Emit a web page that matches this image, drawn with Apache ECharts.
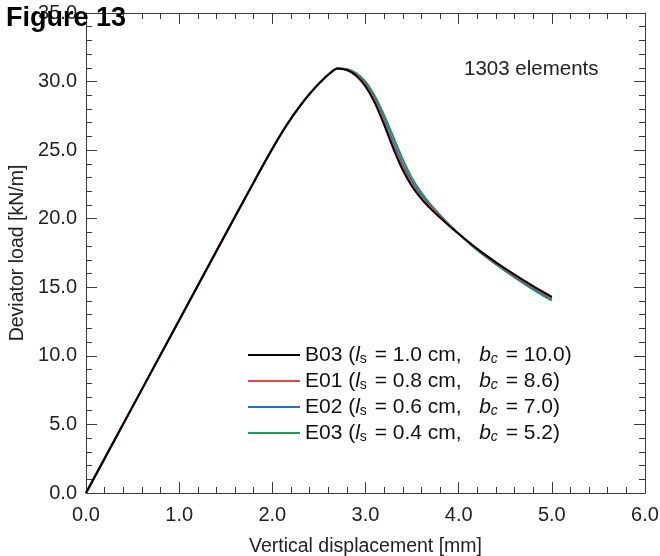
<!DOCTYPE html>
<html>
<head>
<meta charset="utf-8">
<script src="https://cdn.jsdelivr.net/npm/echarts@6/dist/echarts.min.js"></script>
<style>html,body{margin:0;padding:0;background:#fff}#c{width:660px;height:556px}</style>
</head>
<body>
<div id="c"></div>
<script>
// ---- data ----
const dispMm  = [0,0.5,1.0,1.5,1.8,1.9,2.0,2.1,2.2,2.3,2.4,2.5,2.6,2.7,2.8,2.9,3.0,3.1,3.2,3.3,3.4,3.5,3.6,3.7,3.8,3.9,4.0,4.2,4.4,4.6,4.8,5.0];
const loadB03 = [0,6.3,12.6,18.9,22.65,23.9,25.1,26.25,27.3,28.25,29.1,29.85,30.5,30.96,30.84,30.42,29.65,28.45,26.85,25.1,23.55,22.35,21.45,20.72,20.08,19.47,18.9,17.8,16.82,15.92,15.08,14.3];
const loadE01 = [0,6.3,12.6,18.9,22.65,23.9,25.1,26.25,27.3,28.25,29.1,29.85,30.5,30.96,30.86,30.47,29.74,28.58,27.03,25.31,23.75,22.5,21.56,20.8,20.13,19.5,18.9,17.78,16.78,15.87,15.02,14.23];
const loadE02 = [0,6.3,12.6,18.9,22.65,23.9,25.1,26.25,27.3,28.25,29.1,29.85,30.5,30.96,30.88,30.53,29.84,28.73,27.24,25.57,23.99,22.68,21.7,20.89,20.19,19.53,18.9,17.75,16.74,15.81,14.94,14.15];
const loadE03 = [0,6.3,12.6,18.9,22.65,23.9,25.1,26.25,27.3,28.25,29.1,29.85,30.5,30.96,30.91,30.62,30.0,28.95,27.55,25.95,24.35,22.95,21.9,21.02,20.28,19.57,18.9,17.7,16.67,15.72,14.83,14.02];
const caseNames = ['B03','E01','E02','E03'];
const lsValues = ['1.0','0.8','0.6','0.4'];
const bcValues = ['10.0','8.6','7.0','5.2'];
const caseColors = ['#000000','#f4404a','#2d6cc0','#1c9c58'];
const caseLoads = [loadB03, loadE01, loadE02, loadE03];
const xTickLabels = ['0.0','1.0','2.0','3.0','4.0','5.0','6.0'];
const yTickLabels = ['0.0','5.0','10.0','15.0','20.0','25.0','30.0','35.0'];

const FONT = 'Liberation Sans, Arial, sans-serif';
const axisLineStyle = {color:'#3a3a3a', width:1};

const chart = echarts.init(document.getElementById('c'), null, {renderer:'canvas'});

const series = caseNames.map((n,i)=>({
  name:n, type:'line', symbol:'none', smooth:0.3,
  z: 10 - i,
  lineStyle:{color:caseColors[i], width:2},
  itemStyle:{color:caseColors[i]},
  data: dispMm.map((x,k)=>[x, caseLoads[i][k]])
}));

const baseX = {
  type:'value', min:0, max:6, interval:1,
  axisLine:{show:true, onZero:false, lineStyle:axisLineStyle},
  axisTick:{show:true, inside:true, length:11, lineStyle:axisLineStyle},
  minorTick:{show:true, splitNumber:5, length:6, lineStyle:axisLineStyle},
  splitLine:{show:false}
};
const baseY = {
  type:'value', min:0, max:35, interval:5,
  axisLine:{show:true, onZero:false, lineStyle:axisLineStyle},
  axisTick:{show:true, inside:true, length:11, lineStyle:axisLineStyle},
  minorTick:{show:true, splitNumber:5, length:6, lineStyle:axisLineStyle},
  splitLine:{show:false}
};

chart.setOption({
  animation:false,
  backgroundColor:'#fff',
  title:{text:'Figure 13', left:1, top:0, z:20,
    textStyle:{fontFamily:FONT, fontWeight:'bold', fontSize:27, color:'#000'}},
  grid:{left:86, right:15, top:13, bottom:63, outerBoundsMode:'none', containLabel:false},
  legend:{
    orient:'vertical', left:243, top:339, itemWidth:52, itemHeight:2, itemGap:4,
    icon:'rect',
    data:caseNames,
    formatter:function(name){
      const i = caseNames.indexOf(name);
      return name + ' ({it|l}{sub|s} = ' + lsValues[i] + ' cm,   {it|b}{subi|c} = ' + bcValues[i] + ')';
    },
    textStyle:{fontFamily:FONT, fontSize:21, color:'#111', lineHeight:22, padding:[0,0,0,0],
      rich:{
        it:{fontFamily:FONT, fontSize:21, fontStyle:'italic', color:'#111', lineHeight:22},
        sub:{fontFamily:FONT, fontSize:14, color:'#111', padding:[8,2,0,0], lineHeight:14},
        subi:{fontFamily:FONT, fontSize:14, fontStyle:'italic', color:'#111', padding:[8,2,0,0], lineHeight:14}
      }}
  },
  xAxis:[
    Object.assign({}, baseX, {position:'bottom',
      name:'Vertical displacement [mm]', nameLocation:'middle', nameGap:44,
      nameTextStyle:{fontFamily:FONT, fontSize:19.5, color:'#222'},
      axisLabel:{show:true, margin:12, fontFamily:FONT, fontSize:20, color:'#222',
        formatter:(v)=>xTickLabels[Math.round(v)]}}),
    Object.assign({}, baseX, {position:'top', axisLabel:{show:false}})
  ],
  yAxis:[
    Object.assign({}, baseY, {position:'left',
      name:'Deviator load [kN/m]', nameLocation:'middle', nameGap:56,
      nameTextStyle:{fontFamily:FONT, fontSize:19.5, color:'#222'},
      axisLabel:{show:true, margin:9, fontFamily:FONT, fontSize:20, color:'#222',
        formatter:(v)=>yTickLabels[Math.round(v/5)]}}),
    Object.assign({}, baseY, {position:'right', axisLabel:{show:false}})
  ],
  graphic:[{type:'text', left:464, top:59, z:20,
    style:{text:'1303 elements', fontFamily:FONT, fontSize:20.5, fill:'#222'}}],
  series: series
});
</script>
</body>
</html>
